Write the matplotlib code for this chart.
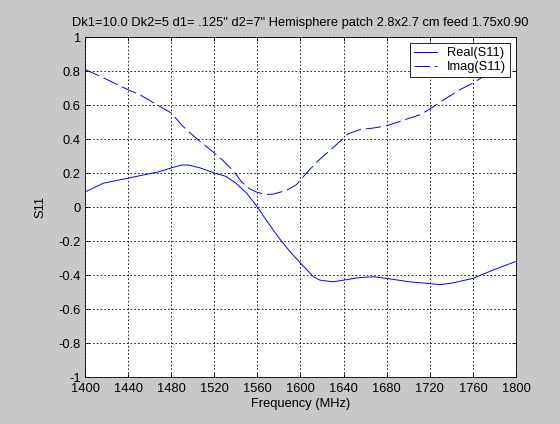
import numpy as np
import matplotlib
matplotlib.use('Agg')
import matplotlib.pyplot as plt

plt.rcParams['font.family'] = ['Liberation Sans', 'DejaVu Sans']

# S11 sweep, 1400-1800 MHz
freq_re = [1400, 1417, 1440, 1460, 1468, 1480, 1490, 1496, 1507, 1520, 1531, 1540,
           1550, 1560, 1568, 1581, 1590, 1600, 1612, 1618, 1630, 1640, 1655, 1668,
           1680, 1701, 1720, 1729, 1741, 1760, 1779, 1800]
s11_re = [0.088, 0.14, 0.17, 0.196, 0.206, 0.23, 0.247, 0.247, 0.23, 0.2, 0.18, 0.14,
          0.082, 0.0, -0.075, -0.19, -0.26, -0.33, -0.41, -0.43, -0.44, -0.43, -0.415, -0.41,
          -0.42, -0.44, -0.45, -0.457, -0.447, -0.42, -0.37, -0.32]

freq_im = [1400, 1417, 1440, 1451, 1467, 1480, 1491, 1504, 1520, 1527, 1538, 1545,
           1552, 1560, 1568, 1574, 1587, 1596, 1607, 1616, 1628, 1640, 1644, 1655,
           1668, 1680, 1699, 1711, 1720, 1733, 1748, 1760, 1770, 1789, 1800]
s11_im = [0.81, 0.76, 0.69, 0.66, 0.60, 0.553, 0.474, 0.40, 0.318, 0.28, 0.21, 0.15,
          0.11, 0.086, 0.074, 0.075, 0.098, 0.13, 0.21, 0.27, 0.337, 0.405, 0.43, 0.455,
          0.465, 0.478, 0.518, 0.543, 0.576, 0.631, 0.69, 0.729, 0.768, 0.80, 0.80]

xticks = np.arange(1400, 1801, 40)
yticks = np.round(np.arange(-1, 1.01, 0.2), 1)
ytick_labels = ['-1', '-0.8', '-0.6', '-0.4', '-0.2', '0', '0.2', '0.4', '0.6', '0.8', '1']

fs = 9.3

fig = plt.figure(figsize=(5.6, 4.24), dpi=100, facecolor='#c8c8c8')
ax = fig.add_axes([0.1518, 0.1108, 0.7696, 0.8019])
ax.set_facecolor('white')

ax.plot(freq_re, s11_re, color='#0000ff', lw=0.7, label='Real(S11)')
ax.plot(freq_im, s11_im, color='#0000ff', lw=0.7, dashes=(16, 5), label='Imag(S11)')

ax.set_xlim(1400, 1800)
ax.set_ylim(-1, 1)
ax.set_xticks(xticks)
ax.set_yticks(yticks)
ax.set_yticklabels(ytick_labels)
ax.grid(True, color='black', linestyle=(0, (2, 2.5)), linewidth=0.6)
ax.tick_params(direction='in', length=3, width=0.6, top=True, right=True,
               labelsize=fs)
ax.tick_params(axis='x', pad=4.5)
ax.tick_params(axis='y', pad=3)
for sp in ax.spines.values():
    sp.set_linewidth(0.6)

ax.set_xlabel('Frequency (MHz)', fontsize=fs, labelpad=2)
ax.set_ylabel('S11', fontsize=fs)
ax.yaxis.set_label_coords(-0.09, 0.5)
ax.set_title('Dk1=10.0 Dk2=5 d1= .125" d2=7" Hemisphere patch 2.8x2.7 cm feed 1.75x0.90',
             fontsize=fs, pad=8)

leg = ax.legend(loc='upper right', fontsize=fs, fancybox=False, framealpha=1,
                edgecolor='black', borderpad=0.3, labelspacing=0.15, handlelength=1.8,
                handletextpad=0.7, borderaxespad=0.5)
leg.get_frame().set_linewidth(0.6)

fig.savefig('out.png', dpi=100, facecolor=fig.get_facecolor())
